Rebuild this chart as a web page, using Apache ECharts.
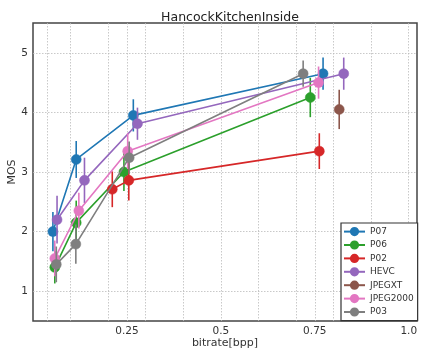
<!DOCTYPE html>
<html>
<head>
<meta charset="utf-8">
<script src="https://cdn.jsdelivr.net/npm/echarts@6/dist/echarts.min.js"></script>
<style>html,body{margin:0;padding:0;background:#fff}#c{width:422px;height:354px}</style>
</head>
<body>
<div id="c"></div>
<script>
const codecs = ['P07','P06','P02','HEVC','JPEGXT','JPEG2000','P03'];
const colors = ['#1f77b4','#2ca02c','#d62728','#9467bd','#8c564b','#e377c2','#7f7f7f'];

const bitrateP07 = [0.053, 0.115, 0.267, 0.772];
const mosP07     = [2.00, 3.21, 3.95, 4.65];
const ciP07      = [0.33, 0.31, 0.27, 0.27];

const bitrateP06 = [0.058, 0.115, 0.242, 0.738];
const mosP06     = [1.40, 2.15, 3.00, 4.25];
const ciP06      = [0.27, 0.37, 0.32, 0.33];

const bitrateP02 = [0.211, 0.255, 0.762];
const mosP02     = [2.71, 2.86, 3.35];
const ciP02      = [0.30, 0.34, 0.30];

const bitrateHEVC = [0.064, 0.137, 0.278, 0.827];
const mosHEVC     = [2.20, 2.86, 3.81, 4.65];
const ciHEVC      = [0.40, 0.38, 0.27, 0.27];

const bitrateJPEGXT = [0.815];
const mosJPEGXT     = [4.05];
const ciJPEGXT      = [0.33];

const bitrateJPEG2000 = [0.058, 0.122, 0.252, 0.760];
const mosJPEG2000     = [1.55, 2.35, 3.35, 4.50];
const ciJPEG2000      = [0.30, 0.30, 0.30, 0.27];

const bitrateP03 = [0.062, 0.114, 0.256, 0.719];
const mosP03     = [1.45, 1.79, 3.24, 4.65];
const ciP03      = [0.30, 0.33, 0.27, 0.22];

const xGridTicks = [0.037, 0.1, 0.2, 0.25, 0.3, 0.4, 0.5, 0.6, 0.7, 0.75, 0.8, 0.9, 1.0];
const xLabelTicks = [0.25, 0.5, 0.75, 1.0];
const yTicks = [1, 2, 3, 4, 5];

const bitrates = [bitrateP07, bitrateP06, bitrateP02, bitrateHEVC, bitrateJPEGXT, bitrateJPEG2000, bitrateP03];
const moss = [mosP07, mosP06, mosP02, mosHEVC, mosJPEGXT, mosJPEG2000, mosP03];
const cis = [ciP07, ciP06, ciP02, ciHEVC, ciJPEGXT, ciJPEG2000, ciP03];

const font = 'DejaVu Sans';
const series = [];
codecs.forEach((name, i) => {
  const col = colors[i];
  series.push({
    type: 'custom',
    name: name + '_err',
    silent: true,
    z: 2 + i * 2,
    data: bitrates[i].map((b, k) => [b, moss[i][k] - cis[i][k], moss[i][k] + cis[i][k]]),
    encode: { x: 0, y: [1, 2] },
    renderItem: function (params, api) {
      const p1 = api.coord([api.value(0), api.value(1)]);
      const p2 = api.coord([api.value(0), api.value(2)]);
      return {
        type: 'line',
        shape: { x1: p1[0], y1: p1[1], x2: p2[0], y2: p2[1] },
        style: { stroke: col, lineWidth: 1.6 }
      };
    }
  });
  series.push({
    type: 'line',
    name: name,
    z: 3 + i * 2,
    data: bitrates[i].map((b, k) => [b, moss[i][k]]),
    symbol: 'circle',
    symbolSize: 10,
    showSymbol: true,
    lineStyle: { color: col, width: 1.6 },
    itemStyle: { color: col, borderColor: col, borderWidth: 0.5 },
    emphasis: { disabled: true },
    animation: false
  });
});

const chart = echarts.init(document.getElementById('c'), null, { renderer: 'canvas' });
chart.setOption({
  animation: false,
  color: colors,
  title: {
    text: 'HancockKitchenInside',
    left: 225, top: 6, textAlign: 'center',
    textStyle: { fontFamily: font, fontSize: 12.5, fontWeight: 'normal', color: '#222' }
  },
  grid: {
    left: 33, right: 5, top: 23, bottom: 33,
    containLabel: false, outerBoundsMode: 'none',
    show: true, borderColor: '#444', borderWidth: 1.5, backgroundColor: '#fff'
  },
  legend: {
    data: codecs,
    orient: 'vertical',
    left: 341, top: 223,
    itemWidth: 21, itemHeight: 9, itemGap: 4.2,
    padding: [4, 4, 4, 2],
    backgroundColor: '#fff',
    borderColor: '#333', borderWidth: 1.2, borderRadius: 0,
    textStyle: { fontFamily: font, fontSize: 9, color: '#333', padding: [0, 0, 0, 0] }
  },
  xAxis: {
    type: 'value', min: 0, max: 1.022,
    name: 'bitrate[bpp]', nameLocation: 'middle', nameGap: 17, nameMoveOverlap: false,
    nameTextStyle: { fontFamily: font, fontSize: 11, color: '#333' },
    axisLine: { show: false },
    axisTick: { show: false, customValues: xGridTicks },
    axisLabel: {
      customValues: xLabelTicks, margin: 5,
      fontFamily: font, fontSize: 10.5, color: '#333',
      formatter: v => (v === 1 ? '1.0' : String(v))
    },
    splitLine: { show: true, lineStyle: { type: [1.5, 1.5], color: '#bbb', width: 0.8 } }
  },
  yAxis: {
    type: 'value', min: 0.5, max: 5.5,
    name: 'MOS', nameLocation: 'middle', nameGap: 15, nameMoveOverlap: false,
    nameTextStyle: { fontFamily: font, fontSize: 11, color: '#333' },
    axisLine: { show: false },
    axisTick: { show: false, customValues: yTicks },
    axisLabel: { customValues: yTicks, margin: 5, fontFamily: font, fontSize: 10.5, color: '#333' },
    splitLine: { show: true, lineStyle: { type: [1.5, 1.5], color: '#bbb', width: 0.8 } }
  },
  series: series
});
</script>
</body>
</html>
